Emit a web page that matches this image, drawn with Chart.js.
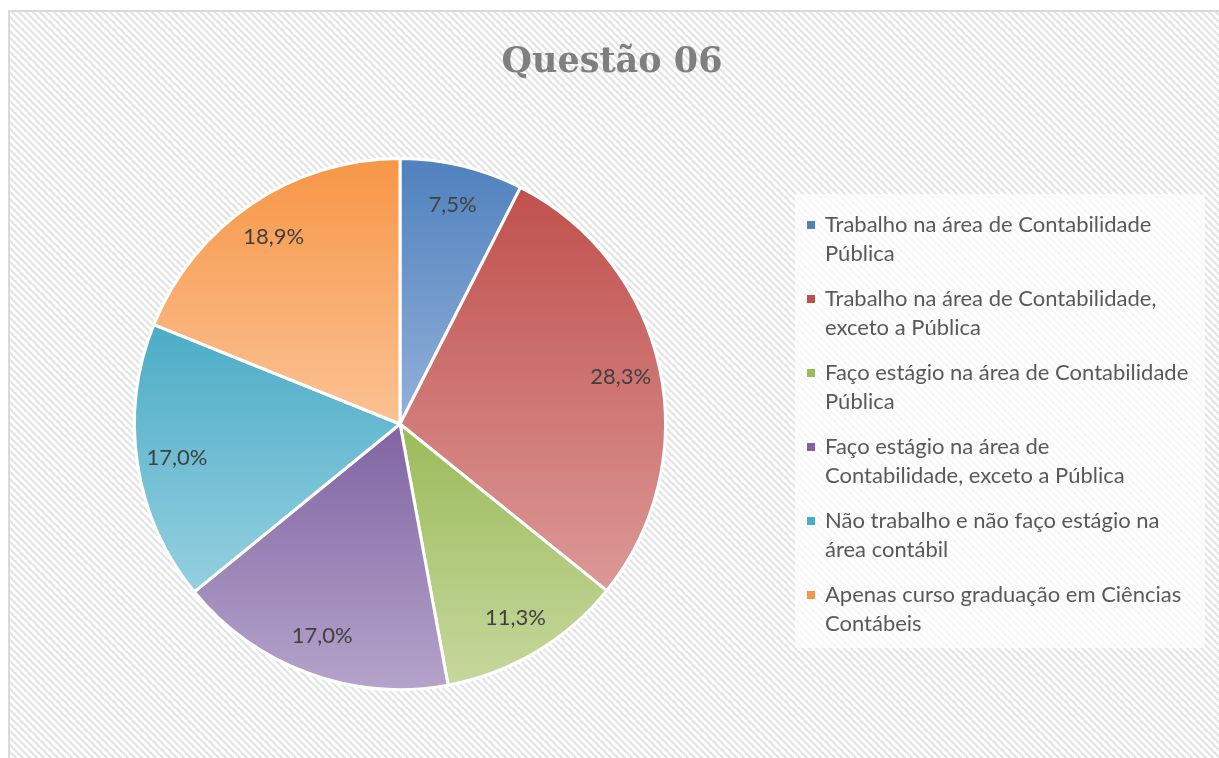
<!DOCTYPE html>
<html>
<head>
<meta charset="utf-8">
<script src="https://cdn.jsdelivr.net/npm/chart.js@4.4.1/dist/chart.umd.min.js"></script>
<style>
  html, body { margin: 0; padding: 0; background: #fff; }
  #wrap { width: 1219px; height: 758px; }
</style>
</head>
<body>
<div id="wrap"><canvas id="myChart" width="1219" height="758"></canvas></div>
<script>
const chartTitle = 'Questão 06';
const legendLines = [
    ['Trabalho na área de Contabilidade', 'Pública'],
    ['Trabalho na área de Contabilidade,', 'exceto a Pública'],
    ['Faço estágio na área de Contabilidade', 'Pública'],
    ['Faço estágio na área de', 'Contabilidade, exceto a Pública'],
    ['Não trabalho e não faço estágio na', 'área contábil'],
    ['Apenas curso graduação em Ciências', 'Contábeis']
];
const categories = legendLines.map(l => l.join(' '));
const percents = [7.5, 28.3, 11.3, 17.0, 17.0, 18.9];
const baseColors = ['#4F81BD', '#C0504D', '#9BBB59', '#8064A2', '#4BACC6', '#F79646'];
const lightColors = ['#93B1D9', '#DC9997', '#C6D89E', '#B5A4CB', '#95D0E0', '#FBC294'];

const textFont = 'Lato';
const textColor = '#595959';

// diagonal hatch used for the chart background
function makeHatch(ctx) {
    const c = document.createElement('canvas');
    c.width = 7; c.height = 7;
    const g = c.getContext('2d');
    g.fillStyle = '#ffffff';
    g.fillRect(0, 0, 7, 7);
    g.strokeStyle = '#e3e3e3';
    g.lineWidth = 2.2;
    [[0, 0, 7, 7], [-3.5, 3.5, 3.5, 10.5], [3.5, -3.5, 10.5, 3.5]].forEach(function (s) {
        g.beginPath(); g.moveTo(s[0], s[1]); g.lineTo(s[2], s[3]); g.stroke();
    });
    return ctx.createPattern(c, 'repeat');
}

// vertical gradient over the bounding box of one slice
function sliceGradient(context) {
    const chart = context.chart;
    const area = chart.chartArea;
    const i = context.dataIndex;
    if (!area || i === undefined) return baseColors[i] || '#888';
    const cx = (area.left + area.right) / 2;
    const cy = (area.top + area.bottom) / 2;
    const r = Math.min(area.right - area.left, area.bottom - area.top) / 2;
    const total = percents.reduce((a, b) => a + b, 0);
    let before = 0;
    for (let k = 0; k < i; k++) before += percents[k];
    const a0 = -Math.PI / 2 + 2 * Math.PI * before / total;
    const a1 = a0 + 2 * Math.PI * percents[i] / total;
    const ys = [cy, cy + r * Math.sin(a0), cy + r * Math.sin(a1)];
    [-Math.PI / 2, Math.PI / 2, 3 * Math.PI / 2].forEach(function (a) {
        if (a >= a0 && a <= a1) ys.push(cy + r * Math.sin(a));
    });
    const y0 = Math.min.apply(null, ys), y1 = Math.max.apply(null, ys);
    const grad = chart.ctx.createLinearGradient(0, y0, 0, y1 + 1);
    grad.addColorStop(0, baseColors[i]);
    grad.addColorStop(1, lightColors[i]);
    return grad;
}

const decorPlugin = {
    id: 'decor',
    beforeDraw: function (chart) {
        const ctx = chart.ctx;
        ctx.save();
        ctx.fillStyle = '#ffffff';
        ctx.fillRect(0, 0, chart.width, chart.height);
        ctx.fillStyle = '#d9d9d9';
        ctx.fillRect(8, 10, chart.width - 8, chart.height - 10);
        ctx.fillStyle = makeHatch(ctx);
        ctx.fillRect(10, 12, chart.width - 10, chart.height - 12);

        // title
        ctx.fillStyle = '#7f7f7f';
        ctx.font = 'bold 35px "DejaVu Serif"';
        ctx.textAlign = 'center';
        ctx.textBaseline = 'alphabetic';
        ctx.fillText(chartTitle, 612, 72);

        // legend
        ctx.fillStyle = 'rgba(255,255,255,0.7)';
        ctx.fillRect(795, 194, 410, 454);
        ctx.font = '22px ' + textFont;
        ctx.textAlign = 'left';
        ctx.textBaseline = 'middle';
        legendLines.forEach(function (lines, i) {
            const y = 225 + i * 74;
            ctx.fillStyle = baseColors[i];
            ctx.fillRect(807, y - 4, 8, 8);
            ctx.fillStyle = textColor;
            lines.forEach(function (t, j) {
                ctx.fillText(t, 825, y + j * 28.5);
            });
        });
        ctx.restore();
    },
    afterDatasetsDraw: function (chart) {
        const ctx = chart.ctx;
        const meta = chart.getDatasetMeta(0);
        ctx.save();
        ctx.font = '22px ' + textFont;
        ctx.fillStyle = '#404040';
        ctx.textAlign = 'center';
        ctx.textBaseline = 'middle';
        meta.data.forEach(function (arc, i) {
            const p = arc.getProps(['x', 'y', 'startAngle', 'endAngle', 'outerRadius'], true);
            const mid = (p.startAngle + p.endAngle) / 2;
            const d = p.outerRadius * 0.85;
            const txt = percents[i].toFixed(1).replace('.', ',') + '%';
            ctx.fillText(txt, p.x + Math.cos(mid) * d, p.y + Math.sin(mid) * d);
        });
        ctx.restore();
    }
};

const ctx = document.getElementById('myChart');
new Chart(ctx, {
    type: 'pie',
    data: {
        labels: categories,
        datasets: [{
            data: percents,
            backgroundColor: sliceGradient,
            borderColor: '#ffffff',
            borderWidth: 3
        }]
    },
    options: {
        responsive: false,
        animation: false,
        layout: { padding: { left: 133, top: 157, right: 552, bottom: 67 } },
        plugins: {
            legend: { display: false },
            title: { display: false },
            tooltip: { enabled: false }
        }
    },
    plugins: [decorPlugin]
});
</script>
</body>
</html>
